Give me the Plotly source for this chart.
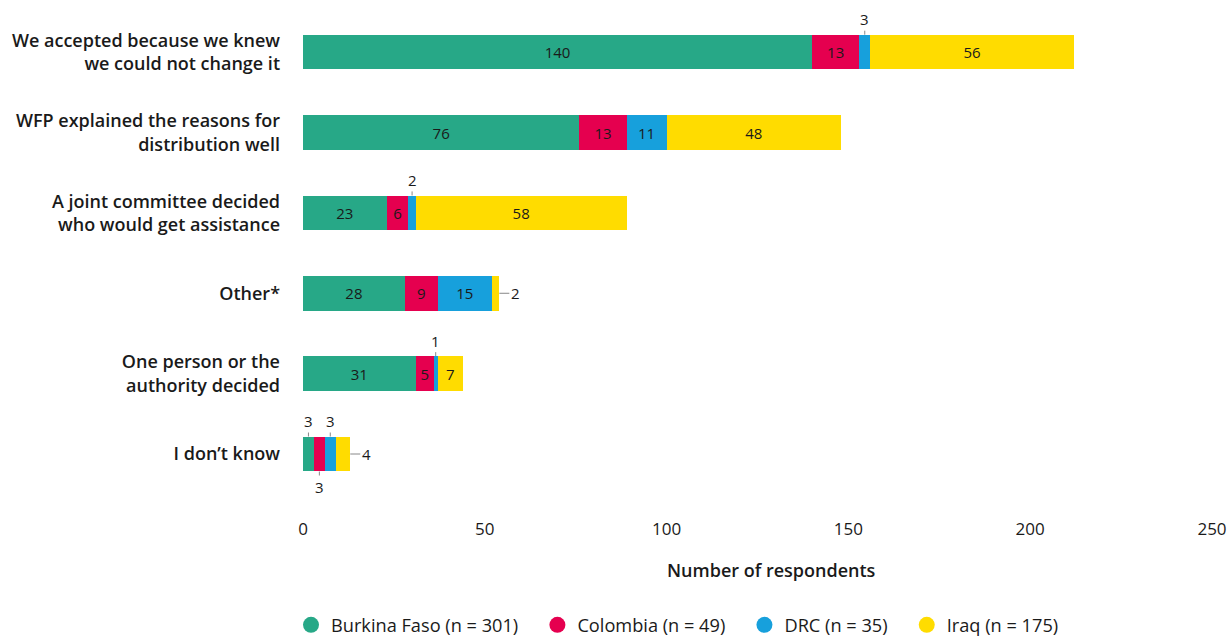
import plotly.graph_objects as go

categories = [
    "We accepted because we knew<br>we could not change it",
    "WFP explained the reasons for<br>distribution well",
    "A joint committee decided<br>who would get assistance",
    "Other*",
    "One person or the<br>authority decided",
    "I don’t know",
]
series_names = ["Burkina Faso (n = 301)", "Colombia (n = 49)", "DRC (n = 35)", "Iraq (n = 175)"]
burkina = [140, 76, 23, 28, 31, 3]
colombia = [13, 13, 6, 9, 5, 3]
drc = [3, 11, 2, 15, 1, 3]
iraq = [56, 48, 58, 2, 7, 4]
x_ticks = [0, 50, 100, 150, 200, 250]

colors = ["#27a887", "#e5004f", "#17a0dc", "#ffdc00"]
series = [burkina, colombia, drc, iraq]

# which values are labelled outside: (series index, category index, direction)
outside = {
    (2, 0): "up",
    (2, 2): "up",
    (3, 3): "right",
    (2, 4): "up",
    (0, 5): "up",
    (1, 5): "down",
    (2, 5): "up",
    (3, 5): "right",
}

FONT = "Open Sans"
TXT = "#1a1a1a"
PAD = "\u00a0\u00a0\u00a0"  # extra gap between legend entries

fig = go.Figure()
for si, (name, vals, col) in enumerate(zip(series_names, series, colors)):
    texts = []
    for ci, v in enumerate(vals):
        texts.append("" if (si, ci) in outside else str(v))
    fig.add_trace(go.Bar(
        y=categories, x=vals, name=name, orientation="h",
        marker=dict(color=col, line=dict(width=0)),
        text=texts, textposition="inside", insidetextanchor="middle",
        textfont=dict(family=FONT, size=15, color=TXT),
        textangle=0, constraintext="none",
        showlegend=False, hoverinfo="x+name",
    ))
    fig.add_trace(go.Scatter(
        x=[None], y=[None], mode="markers",
        name=name + (PAD if si < len(series_names) - 1 else ""),
        marker=dict(color=col, size=20, symbol="circle"),
        showlegend=True,
    ))

# leader-line annotations
for (si, ci), d in outside.items():
    start = sum(series[k][ci] for k in range(si))
    v = series[si][ci]
    if d == "up":
        fig.add_annotation(x=start + v / 2, y=ci, text=str(v), showarrow=True,
                           arrowhead=0, arrowwidth=1, arrowcolor="#888888",
                           ax=0, ay=-33, standoff=17.5,
                           font=dict(family=FONT, size=15, color=TXT))
    elif d == "down":
        fig.add_annotation(x=start + v / 2, y=ci, text=str(v), showarrow=True,
                           arrowhead=0, arrowwidth=1, arrowcolor="#888888",
                           ax=0, ay=33, standoff=17.5,
                           font=dict(family=FONT, size=15, color=TXT))
    else:
        fig.add_annotation(x=start + v, y=ci, text=str(v), showarrow=True,
                           arrowhead=0, arrowwidth=1, arrowcolor="#888888",
                           ax=16, ay=0, standoff=0,
                           font=dict(family=FONT, size=15, color=TXT))

fig.add_annotation(xref="paper", yref="paper", x=0.515, y=-0.145,
                   text="Number of respondents", showarrow=False,
                   xanchor="center", yanchor="middle",
                   font=dict(family=FONT, size=18, color=TXT, weight=600))

fig.update_layout(
    barmode="stack",
    bargap=0.57,
    width=1230, height=637,
    margin=dict(l=303, r=18, t=12, b=138, autoexpand=False),
    plot_bgcolor="white", paper_bgcolor="white",
    font=dict(family=FONT, color=TXT),
    legend=dict(orientation="h", x=-0.0132, xanchor="left",
                y=-0.2587, yanchor="middle",
                font=dict(family=FONT, size=18.2, color=TXT), itemwidth=30,
                traceorder="normal"),
    xaxis=dict(range=[0, 250], tickvals=x_ticks, showgrid=False, zeroline=False,
               showline=False, ticks="", ticklabelstandoff=18, automargin=False,
               tickfont=dict(family=FONT, size=17, color=TXT)),
    yaxis=dict(categoryorder="array", categoryarray=categories, autorange="reversed",
               showgrid=False, zeroline=False, showline=False, ticks="",
               ticklabelstandoff=22, automargin=False,
               tickfont=dict(family=FONT, size=18, color=TXT, weight=600)),
)

fig.write_html(
    "out.html",
    config={"displayModeBar": False},
    post_script="document.body.style.margin='0';document.body.style.overflow='hidden';",
)
